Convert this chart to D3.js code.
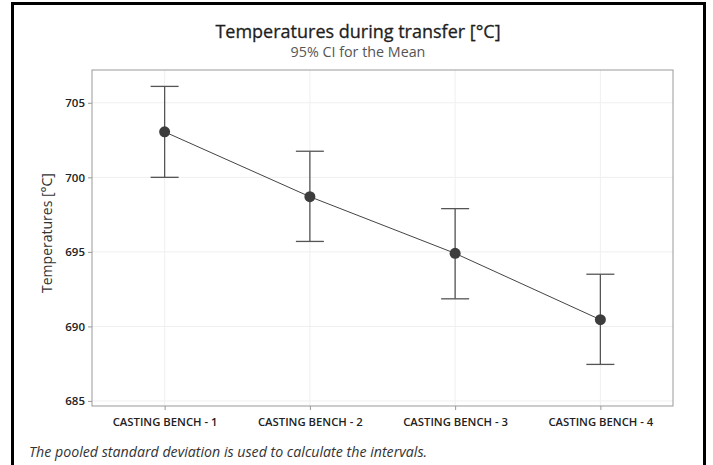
<!DOCTYPE html>
<html>
<head>
<meta charset="utf-8">
<script src="https://cdn.jsdelivr.net/npm/d3@7"></script>
<style>
  body { margin: 0; background: #fff; }
  text { font-family: "Open Sans", "Noto Sans", sans-serif; }
</style>
</head>
<body>
<div id="chart"></div>
<script>
// chart data
const benches = ['CASTING BENCH - 1', 'CASTING BENCH - 2', 'CASTING BENCH - 3', 'CASTING BENCH - 4'];
const means = [703.05, 698.7, 694.9, 690.45];
const lowerCI = [700.0, 695.7, 691.85, 687.45];
const upperCI = [706.1, 701.75, 697.9, 693.5];
const yTicks = [685, 690, 695, 700, 705];

const W = 713, H = 465;
const margin = {top: 70, right: 40, bottom: 59, left: 92};
const width = W - margin.left - margin.right;
const height = H - margin.top - margin.bottom;

const svg = d3.select('#chart').append('svg')
  .attr('width', W)
  .attr('height', H);

// outer frame
svg.append('rect')
  .attr('x', 12.5).attr('y', 3.5)
  .attr('width', 692).attr('height', 470)
  .attr('fill', 'none')
  .attr('stroke', '#000')
  .attr('stroke-width', 3);

// titles
svg.append('text')
  .attr('x', 358).attr('y', 38)
  .attr('text-anchor', 'middle')
  .attr('font-size', 18)
  .attr('fill', '#1e1e1e')
  .attr('stroke', '#1e1e1e')
  .attr('stroke-width', 0.3)
  .text('Temperatures during transfer [°C]');

svg.append('text')
  .attr('x', 358).attr('y', 57)
  .attr('text-anchor', 'middle')
  .attr('font-size', 14.3)
  .attr('fill', '#555')
  .text('95% CI for the Mean');

const x = d3.scalePoint()
  .domain(benches)
  .range([0, width])
  .padding(0.5);

const y = d3.scaleLinear()
  .domain([684.66, 707.2])
  .range([height, 0]);

const chart = svg.append('g')
  .attr('transform', 'translate(' + margin.left + ',' + margin.top + ')');

// grid
chart.selectAll('line.hgrid')
  .data(yTicks).enter()
  .append('line')
  .attr('class', 'hgrid')
  .attr('x1', 0).attr('x2', width)
  .attr('y1', d => y(d)).attr('y2', d => y(d))
  .attr('stroke', '#efefef');

chart.selectAll('line.vgrid')
  .data(benches).enter()
  .append('line')
  .attr('class', 'vgrid')
  .attr('x1', d => x(d)).attr('x2', d => x(d))
  .attr('y1', 0).attr('y2', height)
  .attr('stroke', '#efefef');

// axes
const axisY = chart.append('g')
  .call(d3.axisLeft(y).tickValues(yTicks).tickSize(4).tickPadding(3));
axisY.select('.domain').remove();
axisY.selectAll('.tick line').attr('stroke', '#999');
axisY.selectAll('.tick text')
  .attr('font-size', 11.5)
  .attr('font-weight', 600)
  .attr('fill', '#222')
  .attr('font-family', '"Open Sans", sans-serif');

const axisX = chart.append('g')
  .attr('transform', 'translate(0,' + height + ')')
  .call(d3.axisBottom(x).tickSize(4).tickPadding(8));
axisX.select('.domain').remove();
axisX.selectAll('.tick line').attr('stroke', '#999');
axisX.selectAll('.tick text')
  .attr('font-size', 11.3)
  .attr('font-weight', 600)
  .attr('fill', '#222')
  .attr('font-family', '"Open Sans", sans-serif');

// plot border
chart.append('rect')
  .attr('x', 0).attr('y', 0)
  .attr('width', width).attr('height', height)
  .attr('fill', 'none')
  .attr('stroke', '#999')
  .attr('stroke-width', 1);

// y label
svg.append('text')
  .attr('transform', 'translate(52,233) rotate(-90)')
  .attr('text-anchor', 'middle')
  .attr('font-size', 14)
  .attr('fill', '#333')
  .text('Temperatures [°C]');

// error bars
const rows = benches.map((b, i) => ({key: b, mean: means[i], lo: lowerCI[i], hi: upperCI[i]}));
const bars = chart.selectAll('.err').data(rows).enter().append('g').attr('class', 'err')
  .attr('stroke', '#555').attr('stroke-width', 1.3);
bars.append('line')
  .attr('x1', d => x(d.key)).attr('x2', d => x(d.key))
  .attr('y1', d => y(d.hi)).attr('y2', d => y(d.lo));
bars.append('line')
  .attr('x1', d => x(d.key) - 14).attr('x2', d => x(d.key) + 14)
  .attr('y1', d => y(d.hi)).attr('y2', d => y(d.hi));
bars.append('line')
  .attr('x1', d => x(d.key) - 14).attr('x2', d => x(d.key) + 14)
  .attr('y1', d => y(d.lo)).attr('y2', d => y(d.lo));

// mean line
chart.append('path')
  .datum(rows)
  .attr('fill', 'none')
  .attr('stroke', '#444')
  .attr('stroke-width', 1)
  .attr('d', d3.line().x(d => x(d.key)).y(d => y(d.mean)));

chart.selectAll('circle.mean')
  .data(rows).enter()
  .append('circle')
  .attr('class', 'mean')
  .attr('cx', d => x(d.key))
  .attr('cy', d => y(d.mean))
  .attr('r', 5.5)
  .attr('fill', '#3d3d3d');

// footnote
svg.append('text')
  .attr('x', 29).attr('y', 457)
  .attr('font-size', 14.2)
  .attr('font-style', 'italic')
  .attr('fill', '#333')
  .text('The pooled standard deviation is used to calculate the intervals.');
</script>
</body>
</html>
